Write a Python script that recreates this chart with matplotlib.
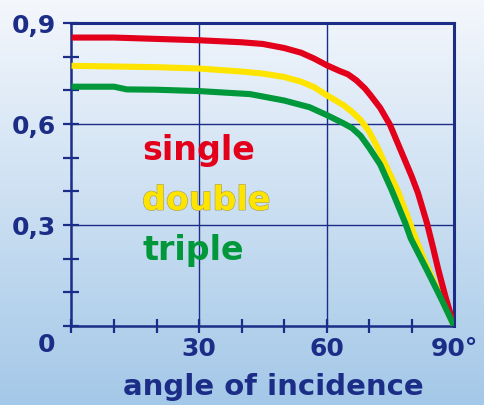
import numpy as np
import matplotlib
matplotlib.use("Agg")
import matplotlib.pyplot as plt
import matplotlib.patheffects as pe
from matplotlib.colors import LinearSegmentedColormap

# data
angle_single = [0, 10, 20, 30, 40, 45, 50, 54, 57, 60, 63, 65, 67, 69, 70.3, 72.6, 74.9, 76.5,
                78, 80, 81.5, 83.6, 85, 86.3, 88, 90]
single = [0.857, 0.857, 0.853, 0.849, 0.843, 0.838, 0.826, 0.812, 0.795, 0.775, 0.758, 0.748,
          0.730, 0.706, 0.686, 0.648, 0.598, 0.550, 0.505, 0.445, 0.395, 0.306, 0.235, 0.166,
          0.085, 0.0]

angle_double = [0, 10, 20, 30, 40, 45, 50, 54, 57, 60, 64, 66, 68, 70, 72, 74, 76.8, 79.6,
                80.8, 83, 86, 90]
double = [0.773, 0.771, 0.769, 0.765, 0.756, 0.750, 0.740, 0.726, 0.710, 0.686, 0.656, 0.636,
          0.612, 0.578, 0.530, 0.475, 0.400, 0.306, 0.265, 0.195, 0.110, 0.0]

angle_triple = [0, 10, 13, 20, 30, 42, 50, 56, 60, 64, 66, 68, 70, 72.6, 75.3, 78.5, 79.8,
                83.6, 87, 90]
triple = [0.711, 0.711, 0.703, 0.702, 0.698, 0.689, 0.670, 0.650, 0.627, 0.602, 0.588, 0.565,
          0.530, 0.480, 0.404, 0.306, 0.260, 0.166, 0.080, 0.0]

series_names = ["single", "double", "triple"]
x_ticks = [0, 10, 20, 30, 40, 50, 60, 70, 80, 90]
x_labels = ["", "", "", "30", "", "", "60", "", "", "90°"]
y_ticks = [0, 0.1, 0.2, 0.3, 0.4, 0.5, 0.6, 0.7, 0.8, 0.9]
y_labels = ["", "", "", "0,3", "", "", "0,6", "", "", "0,9"]

navy = "#1b2d86"
red = "#e2001a"
yellow = "#ffe400"
green = "#00983a"

plt.rcParams["font.family"] = ["DejaVu Sans"]
plt.rcParams["font.weight"] = "bold"

fig = plt.figure(figsize=(4.85, 4.05), dpi=100)

# background gradient
bg = fig.add_axes([0, 0, 1, 1], zorder=-10)
cmap = LinearSegmentedColormap.from_list("bg", ["#f4f7fc", "#a4c8e8"])
grad = np.linspace(0, 1, 256).reshape(-1, 1)
bg.imshow(grad, aspect="auto", cmap=cmap, extent=[0, 1, 0, 1])
bg.axis("off")

ax = fig.add_axes([0.1474, 0.195, 0.789, 0.748])
ax.patch.set_alpha(0)

ax.plot(angle_single, single, color=red, lw=4.4, solid_capstyle="butt", zorder=5)
ax.plot(angle_double, double, color=yellow, lw=4.4, solid_capstyle="butt", zorder=4)
ax.plot(angle_triple, triple, color=green, lw=4.4, solid_capstyle="butt", zorder=6)

ax.set_xlim(0, 90)
ax.set_ylim(0, 0.9)

for g in [30, 60]:
    ax.axvline(g, color=navy, lw=1.0, zorder=1)
for g in [0.3, 0.6]:
    ax.axhline(g, color=navy, lw=1.0, zorder=1)

ax.set_xticks(x_ticks, x_labels)
ax.set_yticks(y_ticks, y_labels)
ax.tick_params(axis="x", direction="inout", length=10, width=1.6, color=navy,
               labelsize=18, labelcolor=navy, pad=3)
ax.tick_params(axis="y", direction="inout", length=12, width=1.6, color=navy,
               labelsize=18, labelcolor=navy, pad=5)
ax.xaxis.get_major_ticks()[-1].tick1line.set_visible(False)
for lab in ax.get_xticklabels() + ax.get_yticklabels():
    lab.set_fontweight("bold")

for side in ["left", "bottom"]:
    ax.spines[side].set_color(navy)
    ax.spines[side].set_linewidth(1.8)
for side in ["top", "right"]:
    ax.spines[side].set_color(navy)
    ax.spines[side].set_linewidth(2.2)

fig.text(47 / 485, 1 - 345 / 405, "0", color=navy, fontsize=18, fontweight="bold",
         ha="center", va="center")
fig.text(273 / 485, 10 / 405, "angle of incidence", color=navy, fontsize=21,
         fontweight="bold", ha="center", va="baseline")

ax.text(16.6, 0.493, series_names[0], color=red, fontsize=24, fontweight="bold",
        ha="left", va="baseline", zorder=8)
ax.text(16.6, 0.345, series_names[1], color=yellow, fontsize=24, fontweight="bold",
        ha="left", va="baseline", zorder=8,
        path_effects=[pe.withStroke(linewidth=0.8, foreground="#a09c6a")])
ax.text(16.6, 0.196, series_names[2], color=green, fontsize=24, fontweight="bold",
        ha="left", va="baseline", zorder=8)

fig.savefig("out.png", dpi=100)
